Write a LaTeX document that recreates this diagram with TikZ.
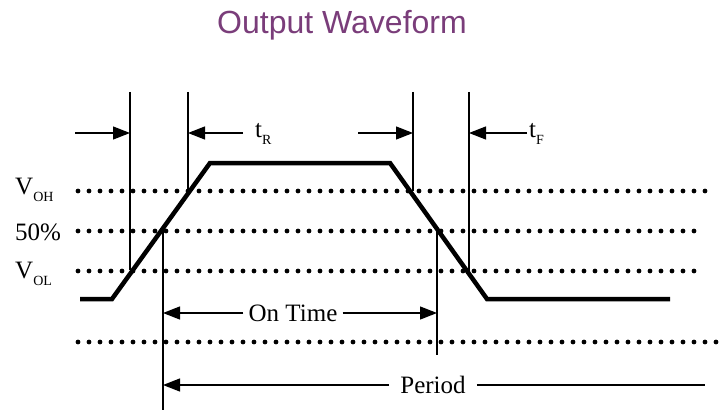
\documentclass[tikz,border=0pt]{standalone}
\usepackage{fontspec}
\setmainfont{Liberation Serif}
\newfontfamily\titlefont{Liberation Sans}
\usetikzlibrary{arrows.meta,positioning,calc}
\definecolor{titlepurple}{RGB}{122,61,122}
\newcommand{\lowsub}[1]{\raisebox{-7pt}{\fontsize{14}{16}\selectfont #1}}

\begin{document}
\begin{tikzpicture}[x=1pt,y=-1pt,>={Triangle[length=17pt,width=13pt]},
    every node/.style={font=\fontsize{25}{30}\selectfont,inner sep=0pt},
    level/.style={line width=4.8pt,dash pattern=on 0pt off 11pt,line cap=round},
    wave/.style={line width=4.5pt,line join=miter},
    marker/.style={line width=2pt},
    dim/.style={line width=1.3pt}]
  \useasboundingbox (0,0) rectangle (727,417);
  \node[titlepurple,font=\titlefont\fontsize{32}{36}\selectfont,anchor=base] (title) at (342,34) {Output Waveform};

  % dotted levels
  \coordinate (vohL) at (78,191);  \coordinate (vohR) at (715,191);
  \coordinate (midL) at (78,231);  \coordinate (midR) at (705,231);
  \coordinate (volL) at (78,271);  \coordinate (volR) at (705,271);
  \coordinate (botL) at (78,342);  \coordinate (botR) at (717,342);
  \draw[level] (vohL) -- (vohR);
  \draw[level] (midL) -- (midR);
  \draw[level] (volL) -- (volR);
  \draw[level] (botL) -- (botR);
  \node[anchor=base west] (voh) at (15,194) {V\lowsub{OH}};
  \node[anchor=base west] (mid) at (15,240) {50\%};
  \node[anchor=base west] (vol) at (15,278) {V\lowsub{OL}};

  % output waveform
  \draw[wave] (80,299) -- (112,299) -- (210,163) -- (390,163) -- (487,299) -- (670,299);

  % marker lines
  \coordinate (m1t) at (130,92);  \coordinate (m1b) at (130,270);
  \coordinate (m2t) at (188,92);  \coordinate (m2b) at (188,191);
  \coordinate (m3t) at (163,231); \coordinate (m3b) at (163,410);
  \coordinate (m4t) at (413,92);  \coordinate (m4b) at (413,191);
  \coordinate (m5t) at (469,92);  \coordinate (m5b) at (469,271);
  \coordinate (m6t) at (437,231); \coordinate (m6b) at (437,355);
  \foreach \m in {1,...,6}{ \draw[marker] (m\m t) -- (m\m b); }

  % rise and fall times
  \coordinate (riseIn) at (75,133);
  \node[anchor=base west,inner xsep=12pt] (tR) at (243,137) {t\lowsub{R}};
  \coordinate (riseOut) at (243,133);
  \draw[dim,->] (riseIn) -- (m1t |- riseIn);
  \draw[dim,->] (riseOut) -- (m2t |- riseOut);
  \coordinate (fallIn) at (358,133);
  \node[anchor=base west,inner xsep=2pt] (tF) at (527,137) {t\lowsub{F}};
  \coordinate (fallOut) at (527,133);
  \draw[dim,->] (fallIn) -- (m4t |- fallIn);
  \draw[dim,->] (fallOut) -- (m5t |- fallOut);

  % on time and period
  \node[inner xsep=5pt] (ontime) at (293,313) {On Time};
  \draw[dim,->] (ontime.west) -- (m3t |- ontime);
  \draw[dim,->] (ontime.east) -- (m6t |- ontime);
  \node[inner xsep=11pt] (period) at (433,385) {Period};
  \coordinate (periodEnd) at (705,385);
  \draw[dim,->] (period.west) -- (m3t |- period);
  \draw[dim] (period.east) -- (periodEnd);
\end{tikzpicture}
\end{document}
